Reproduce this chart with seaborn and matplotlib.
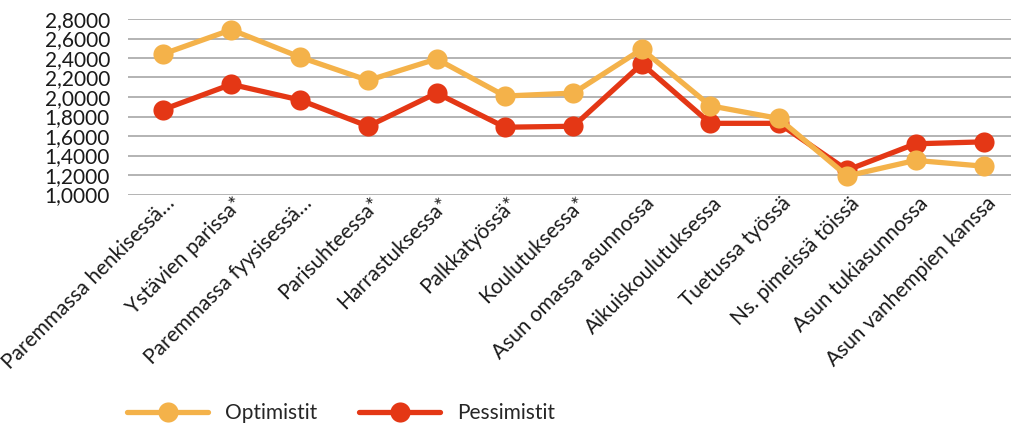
import pandas as pd
import matplotlib
matplotlib.use("Agg")
import matplotlib.pyplot as plt
import matplotlib.transforms as mtransforms
from matplotlib.ticker import FuncFormatter, MultipleLocator
import seaborn as sns

# Data
kategoriat = [
    "Paremmassa henkisessä…", "Ystävien parissa*", "Paremmassa fyysisessä…",
    "Parisuhteessa*", "Harrastuksessa*", "Palkkatyössä*", "Koulutuksessa*",
    "Asun omassa asunnossa", "Aikuiskoulutuksessa", "Tuetussa työssä",
    "Ns. pimeissä töissä", "Asun tukiasunnossa", "Asun vanhempien kanssa",
]
optimistit = [2.44, 2.69, 2.41, 2.17, 2.39, 2.01, 2.04, 2.49, 1.91, 1.78, 1.19, 1.35, 1.29]
pessimistit = [1.87, 2.13, 1.97, 1.70, 2.04, 1.69, 1.70, 2.34, 1.73, 1.73, 1.25, 1.52, 1.54]

sarjat = ["Optimistit", "Pessimistit"]
varit = {"Optimistit": "#F4B24A", "Pessimistit": "#E43715"}

df = pd.concat([
    pd.DataFrame({"kategoria": kategoriat, "arvo": optimistit, "sarja": "Optimistit"}),
    pd.DataFrame({"kategoria": kategoriat, "arvo": pessimistit, "sarja": "Pessimistit"}),
], ignore_index=True)

sns.set_style("white")
plt.rcParams["font.family"] = ["Lato", "DejaVu Sans"]

fig = plt.figure(figsize=(10.12, 4.24), dpi=100)
ax = fig.add_axes([128 / 1012, 1 - 194.5 / 424, (1012 - 128) / 1012, 175.5 / 424])

sns.lineplot(data=df, x="kategoria", y="arvo", hue="sarja",
             hue_order=["Pessimistit", "Optimistit"], palette=varit,
             marker="o", markersize=14.5, markeredgewidth=0, linewidth=3.8,
             sort=False, ax=ax, legend=True)

for line in ax.lines:
    line.set_clip_on(False)

ax.set_ylim(1.0, 2.8)
ax.set_xlim(-0.51, 12.41)
ax.yaxis.set_major_locator(MultipleLocator(0.2))
ax.yaxis.set_major_formatter(FuncFormatter(lambda v, p: f"{v:.4f}".replace(".", ",")))
ax.grid(axis="y", color="#B3B3B3", linewidth=1.4)
ax.set_axisbelow(True)
for s in ax.spines.values():
    s.set_visible(False)
ax.tick_params(axis="both", length=0)
ax.tick_params(axis="y", labelsize=15, pad=13, labelcolor="#1a1a1a")
ax.set_xlabel("")
ax.set_ylabel("")

ax.set_xticks(range(len(kategoriat)))
ax.set_xticklabels(kategoriat, rotation=45, ha="right", va="center",
                   rotation_mode="anchor", fontsize=15, color="#1a1a1a")
offset = mtransforms.ScaledTranslation(9 / 100, -1 / 100, fig.dpi_scale_trans)
for lab in ax.get_xticklabels():
    lab.set_transform(lab.get_transform() + offset)

handles, labels = ax.get_legend_handles_labels()
order = [labels.index(n) for n in sarjat]
leg = ax.legend([handles[i] for i in order], [labels[i] for i in order],
                loc="center", bbox_to_anchor=(341 / 1012, 1 - 413 / 424),
                bbox_transform=fig.transFigure, ncol=2, frameon=False,
                fontsize=15, handlelength=3.9, handletextpad=0.8,
                columnspacing=2.0)

fig.savefig("out.png", dpi=100)
